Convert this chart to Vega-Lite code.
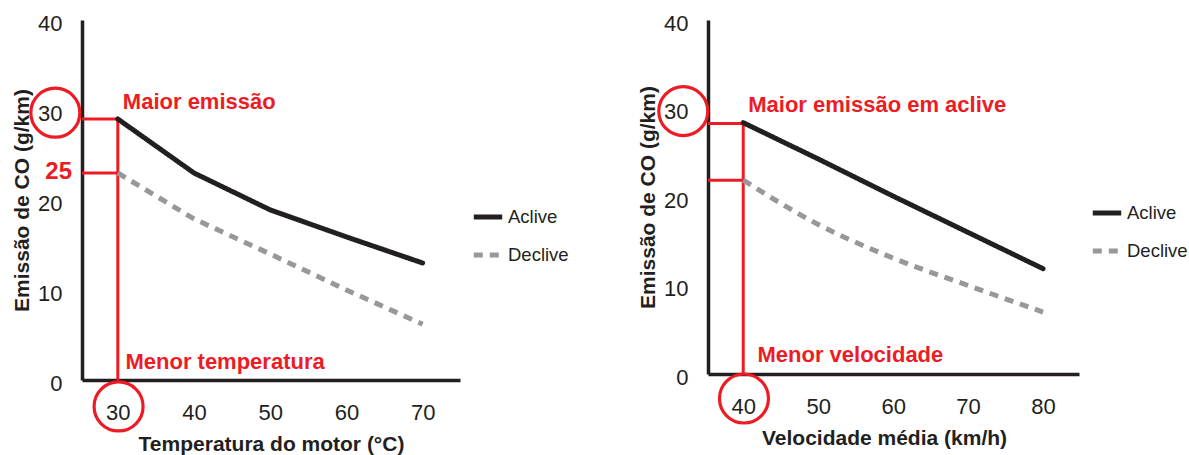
{
  "$schema": "https://vega.github.io/schema/vega-lite/v6.json",
  "autosize": {"type": "none"},
  "padding": {"left": 82, "top": 20, "right": 1107, "bottom": 435},
  "spacing": 248,
  "bounds": "flush",
  "background": "white",
  "config": {
    "font": "Liberation Sans",
    "view": {"stroke": null},
    "axis": {
      "domainColor": "#231f20",
      "domainWidth": 3.5,
      "ticks": false,
      "grid": false,
      "labelFont": "Liberation Sans",
      "labelFontSize": 22,
      "labelColor": "#231f20",
      "titleFont": "Liberation Sans",
      "titleFontSize": 21,
      "titleFontWeight": "bold",
      "titleColor": "#231f20"
    },
    "axisX": {"labelPadding": 22, "titlePadding": 10, "labelFlush": false},
    "axisY": {"labelPadding": 20, "titlePadding": 5, "labelOffset": 3},
    "legend": {
      "orient": "none",
      "symbolType": "stroke",
      "symbolSize": 810,
      "symbolStrokeWidth": 5,
      "labelFont": "Liberation Sans",
      "labelFontSize": 18.5,
      "labelColor": "#231f20",
      "labelOffset": 3,
      "rowPadding": 11
    }
  },
  "datasets": {
    "left_lines": [
      {"serie": "Aclive", "temp": 30, "co": 29.0},
      {"serie": "Aclive", "temp": 40, "co": 23.0},
      {"serie": "Aclive", "temp": 50, "co": 18.9},
      {"serie": "Aclive", "temp": 60, "co": 15.9},
      {"serie": "Aclive", "temp": 70, "co": 13.0},
      {"serie": "Declive", "temp": 30, "co": 23.0},
      {"serie": "Declive", "temp": 40, "co": 17.9},
      {"serie": "Declive", "temp": 50, "co": 14.0},
      {"serie": "Declive", "temp": 60, "co": 10.0},
      {"serie": "Declive", "temp": 70, "co": 6.2}
    ],
    "left_rules": [
      {"temp": 25.3, "temp2": 30, "co": 29.0, "co2": 29.0},
      {"temp": 25.3, "temp2": 30, "co": 23.0, "co2": 23.0},
      {"temp": 30, "temp2": 30, "co": 0, "co2": 29.0}
    ],
    "left_circles": [
      {"temp": 21.8, "co": 29.7},
      {"temp": 30.1, "co": -2.94}
    ],
    "left_texts": [
      {"label": "Maior emissão", "temp": 30.66, "co": 30.9},
      {"label": "Menor temperatura", "temp": 31.0, "co": 2.0}
    ],
    "left_value": [
      {"label": "25", "temp": 23.99, "co": 23.1}
    ],
    "right_lines": [
      {"serie": "Aclive", "vel": 40, "co": 28.4},
      {"serie": "Aclive", "vel": 50, "co": 24.3},
      {"serie": "Aclive", "vel": 60, "co": 20.1},
      {"serie": "Aclive", "vel": 70, "co": 16.0},
      {"serie": "Aclive", "vel": 80, "co": 11.9},
      {"serie": "Declive", "vel": 40, "co": 21.9},
      {"serie": "Declive", "vel": 50, "co": 16.9},
      {"serie": "Declive", "vel": 60, "co": 13.1},
      {"serie": "Declive", "vel": 70, "co": 10.0},
      {"serie": "Declive", "vel": 80, "co": 7.0}
    ],
    "right_rules": [
      {"vel": 35.3, "vel2": 40, "co": 28.3, "co2": 28.3},
      {"vel": 35.3, "vel2": 40, "co": 21.9, "co2": 21.9},
      {"vel": 40, "vel2": 40, "co": 0, "co2": 28.3}
    ],
    "right_circles": [
      {"vel": 32.0, "co": 29.7},
      {"vel": 40.1, "co": -2.77}
    ],
    "right_texts": [
      {"label": "Maior emissão em aclive", "vel": 40.67, "co": 30.4},
      {"label": "Menor velocidade", "vel": 41.9, "co": 2.15}
    ]
  },
  "hconcat": [
    {
      "width": 378,
      "height": 360,
      "layer": [
        {
          "data": {"name": "left_rules"},
          "mark": {"type": "rule", "color": "#ed1c24", "strokeWidth": 3, "clip": false},
          "encoding": {
            "x": {"field": "temp", "type": "quantitative", "title": "Temperatura do motor (°C)", "scale": {"domain": [25.3, 74.9], "nice": false, "zero": false}},
            "x2": {"field": "temp2"},
            "y": {"field": "co", "type": "quantitative", "title": "Emissão de CO (g/km)", "scale": {"domain": [0, 40], "nice": false}},
            "y2": {"field": "co2"}
          }
        },
        {
          "data": {"name": "left_lines"},
          "transform": [{"filter": "datum.serie == 'Declive'"}],
          "mark": {"type": "line", "strokeWidth": 5, "interpolate": "linear", "strokeCap": "butt", "clip": false},
          "encoding": {
            "x": {"field": "temp", "type": "quantitative", "title": "Temperatura do motor (°C)", "scale": {"domain": [25.3, 74.9], "nice": false, "zero": false}, "axis": {"values": [30, 40, 50, 60, 70]}},
            "y": {"field": "co", "type": "quantitative", "title": "Emissão de CO (g/km)", "scale": {"domain": [0, 40], "nice": false}, "axis": {"values": [0, 10, 20, 30, 40]}},
            "color": {"field": "serie", "type": "nominal", "scale": {"domain": ["Aclive", "Declive"], "range": ["#231f20", "#98989c"]}, "legend": {"title": null, "legendX": 389, "legendY": 180}},
            "strokeDash": {"field": "serie", "type": "nominal", "scale": {"domain": ["Aclive", "Declive"], "range": [[1, 0], [9, 7]]}, "legend": {"title": null, "legendX": 389, "legendY": 180}}
          }
        },
        {
          "data": {"name": "left_lines"},
          "transform": [{"filter": "datum.serie == 'Aclive'"}],
          "mark": {"type": "line", "strokeWidth": 5, "interpolate": "linear", "strokeCap": "round", "strokeJoin": "round", "clip": false},
          "encoding": {
            "x": {"field": "temp", "type": "quantitative", "title": "Temperatura do motor (°C)", "scale": {"domain": [25.3, 74.9], "nice": false, "zero": false}},
            "y": {"field": "co", "type": "quantitative", "title": "Emissão de CO (g/km)", "scale": {"domain": [0, 40], "nice": false}},
            "color": {"field": "serie", "type": "nominal", "scale": {"domain": ["Aclive", "Declive"], "range": ["#231f20", "#98989c"]}, "legend": {"title": null, "legendX": 389, "legendY": 180}},
            "strokeDash": {"field": "serie", "type": "nominal", "scale": {"domain": ["Aclive", "Declive"], "range": [[1, 0], [9, 7]]}, "legend": {"title": null, "legendX": 389, "legendY": 180}}
          }
        },
        {
          "data": {"name": "left_circles"},
          "mark": {"type": "point", "shape": "circle", "filled": false, "stroke": "#ed1c24", "strokeWidth": 3.2, "size": 2400, "opacity": 1, "clip": false},
          "encoding": {
            "x": {"field": "temp", "type": "quantitative", "title": "Temperatura do motor (°C)", "scale": {"domain": [25.3, 74.9], "nice": false, "zero": false}},
            "y": {"field": "co", "type": "quantitative", "title": "Emissão de CO (g/km)", "scale": {"domain": [0, 40], "nice": false}}
          }
        },
        {
          "data": {"name": "left_texts"},
          "mark": {"type": "text", "align": "left", "baseline": "middle", "fontSize": 22, "fontWeight": "bold", "color": "#ed1c24", "clip": false},
          "encoding": {
            "x": {"field": "temp", "type": "quantitative", "title": "Temperatura do motor (°C)", "scale": {"domain": [25.3, 74.9], "nice": false, "zero": false}},
            "y": {"field": "co", "type": "quantitative", "title": "Emissão de CO (g/km)", "scale": {"domain": [0, 40], "nice": false}},
            "text": {"field": "label"}
          }
        },
        {
          "data": {"name": "left_value"},
          "mark": {"type": "text", "align": "right", "baseline": "middle", "fontSize": 24, "fontWeight": "bold", "color": "#ed1c24", "clip": false},
          "encoding": {
            "x": {"field": "temp", "type": "quantitative", "title": "Temperatura do motor (°C)", "scale": {"domain": [25.3, 74.9], "nice": false, "zero": false}},
            "y": {"field": "co", "type": "quantitative", "title": "Emissão de CO (g/km)", "scale": {"domain": [0, 40], "nice": false}},
            "text": {"field": "label"}
          }
        }
      ]
    },
    {
      "width": 371,
      "height": 354,
      "layer": [
        {
          "data": {"name": "right_rules"},
          "mark": {"type": "rule", "color": "#ed1c24", "strokeWidth": 3, "clip": false},
          "encoding": {
            "x": {"field": "vel", "type": "quantitative", "title": "Velocidade média (km/h)", "scale": {"domain": [35.3, 84.8], "nice": false, "zero": false}},
            "x2": {"field": "vel2"},
            "y": {"field": "co", "type": "quantitative", "title": "Emissão de CO (g/km)", "scale": {"domain": [0, 40], "nice": false}},
            "y2": {"field": "co2"}
          }
        },
        {
          "data": {"name": "right_lines"},
          "transform": [{"filter": "datum.serie == 'Declive'"}],
          "mark": {"type": "line", "strokeWidth": 5, "interpolate": "monotone", "strokeCap": "butt", "clip": false},
          "encoding": {
            "x": {"field": "vel", "type": "quantitative", "title": "Velocidade média (km/h)", "scale": {"domain": [35.3, 84.8], "nice": false, "zero": false}, "axis": {"values": [40, 50, 60, 70, 80], "titleX": 176}},
            "y": {"field": "co", "type": "quantitative", "title": "Emissão de CO (g/km)", "scale": {"domain": [0, 40], "nice": false}, "axis": {"values": [0, 10, 20, 30, 40]}},
            "color": {"field": "serie", "type": "nominal", "scale": {"domain": ["Aclive", "Declive"], "range": ["#231f20", "#98989c"]}, "legend": {"title": null, "legendX": 382, "legendY": 176}},
            "strokeDash": {"field": "serie", "type": "nominal", "scale": {"domain": ["Aclive", "Declive"], "range": [[1, 0], [9, 7]]}, "legend": {"title": null, "legendX": 382, "legendY": 176}}
          }
        },
        {
          "data": {"name": "right_lines"},
          "transform": [{"filter": "datum.serie == 'Aclive'"}],
          "mark": {"type": "line", "strokeWidth": 5, "interpolate": "linear", "strokeCap": "round", "strokeJoin": "round", "clip": false},
          "encoding": {
            "x": {"field": "vel", "type": "quantitative", "title": "Velocidade média (km/h)", "scale": {"domain": [35.3, 84.8], "nice": false, "zero": false}},
            "y": {"field": "co", "type": "quantitative", "title": "Emissão de CO (g/km)", "scale": {"domain": [0, 40], "nice": false}},
            "color": {"field": "serie", "type": "nominal", "scale": {"domain": ["Aclive", "Declive"], "range": ["#231f20", "#98989c"]}, "legend": {"title": null, "legendX": 382, "legendY": 176}},
            "strokeDash": {"field": "serie", "type": "nominal", "scale": {"domain": ["Aclive", "Declive"], "range": [[1, 0], [9, 7]]}, "legend": {"title": null, "legendX": 382, "legendY": 176}}
          }
        },
        {
          "data": {"name": "right_circles"},
          "mark": {"type": "point", "shape": "circle", "filled": false, "stroke": "#ed1c24", "strokeWidth": 3.2, "size": 2400, "opacity": 1, "clip": false},
          "encoding": {
            "x": {"field": "vel", "type": "quantitative", "title": "Velocidade média (km/h)", "scale": {"domain": [35.3, 84.8], "nice": false, "zero": false}},
            "y": {"field": "co", "type": "quantitative", "title": "Emissão de CO (g/km)", "scale": {"domain": [0, 40], "nice": false}}
          }
        },
        {
          "data": {"name": "right_texts"},
          "mark": {"type": "text", "align": "left", "baseline": "middle", "fontSize": 22, "fontWeight": "bold", "color": "#ed1c24", "clip": false},
          "encoding": {
            "x": {"field": "vel", "type": "quantitative", "title": "Velocidade média (km/h)", "scale": {"domain": [35.3, 84.8], "nice": false, "zero": false}},
            "y": {"field": "co", "type": "quantitative", "title": "Emissão de CO (g/km)", "scale": {"domain": [0, 40], "nice": false}},
            "text": {"field": "label"}
          }
        }
      ]
    }
  ],
  "resolve": {
    "scale": {"color": "independent", "strokeDash": "independent"},
    "legend": {"color": "independent", "strokeDash": "independent"}
  }
}
